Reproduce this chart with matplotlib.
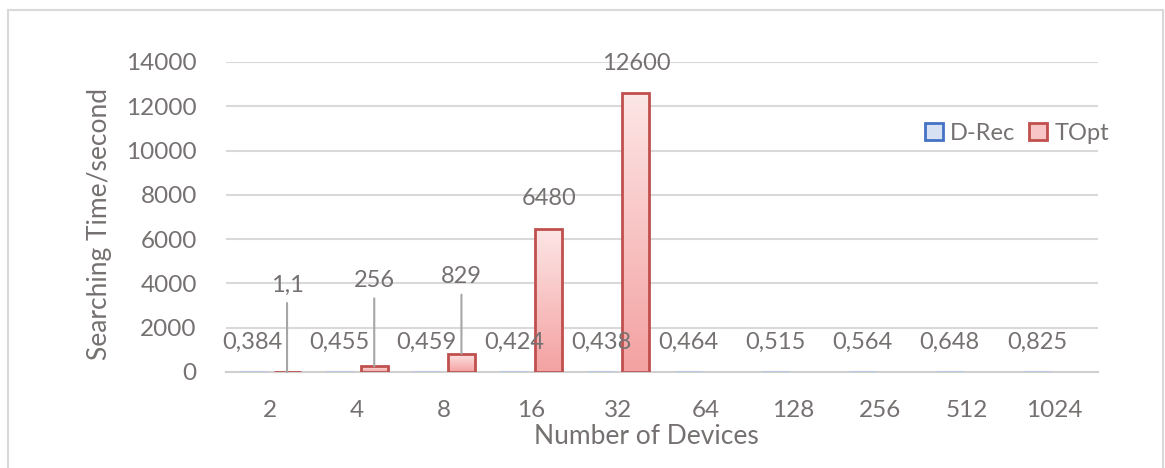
import matplotlib
matplotlib.use("Agg")
import matplotlib.pyplot as plt
import numpy as np
from matplotlib.colors import LinearSegmentedColormap
from matplotlib.patches import Rectangle, Patch

categories = ["2", "4", "8", "16", "32", "64", "128", "256", "512", "1024"]
drec = [0.384, 0.455, 0.459, 0.424, 0.438, 0.464, 0.515, 0.564, 0.648, 0.825]
topt = [1.1, 256, 829, 6480, 12600]
drec_labels = ["0,384", "0,455", "0,459", "0,424", "0,438", "0,464", "0,515", "0,564", "0,648", "0,825"]
topt_labels = ["1,1", "256", "829", "6480", "12600"]
yticks = [0, 2000, 4000, 6000, 8000, 10000, 12000, 14000]

plt.rcParams['font.family'] = ['Lato', 'DejaVu Sans']
TXT = "#767171"
FS = 17
FS_T = 17.5
FS_L = 19

W, H = 1165, 468
fig = plt.figure(figsize=(W / 100, H / 100), dpi=100)
ax = fig.add_axes([226 / W, 1 - 372 / H, (1098 - 226) / W, (372 - 62) / H])

# outer border
fig.patches.append(Rectangle((8 / W, -0.05), (1163 - 8) / W, 1.05 - 10 / H,
                             transform=fig.transFigure, fill=False,
                             edgecolor="#d9d9d9", linewidth=1.5))

x = np.arange(len(categories))
bw = 0.31
off = 0.2

red_cmap = LinearSegmentedColormap.from_list("r", ["#f4a1a1", "#fde6e6"])
blue_cmap = LinearSegmentedColormap.from_list("b", ["#a9c0e6", "#e3ebf7"])
grad = np.linspace(0, 1, 256).reshape(-1, 1)

def gbar(xc, h, cmap, edge):
    bars = ax.bar(xc, h, width=bw, facecolor="none", edgecolor=edge, linewidth=2, zorder=3)
    for b in bars:
        if b.get_height() <= 0:
            continue
        im = ax.imshow(grad, cmap=cmap, origin="lower", aspect="auto",
                       extent=[b.get_x(), b.get_x() + b.get_width(), 0, b.get_height()],
                       zorder=2)
        im.set_clip_path(b)
    return bars

gbar(x - off, drec, blue_cmap, "#b4c7e7")
gbar(x[:len(topt)] + off, topt, red_cmap, "#c0504d")

ax.set_xlim(-0.5, len(categories) - 0.5)
ax.set_ylim(0, 14000)
ax.set_yticks(yticks)
ax.set_yticklabels([str(v) for v in yticks])
ax.set_xticks(x)
ax.set_xticklabels(categories)
ax.tick_params(length=0, labelsize=FS_T, colors=TXT)
ax.tick_params(axis="x", pad=20)
ax.tick_params(axis="y", pad=21)
ax.grid(axis="y", color="#d9d9d9", linewidth=1.5, zorder=0)
ax.set_axisbelow(True)
for s in ["top", "right", "left"]:
    ax.spines[s].set_visible(False)
ax.spines["bottom"].set_color("#d0d0d0")
ax.spines["bottom"].set_linewidth(1.5)

# data labels
for xi, v, lab in zip(x, drec, drec_labels):
    ax.annotate(lab, (xi - off, v), xytext=(0, 30), textcoords="offset pixels",
                ha="center", va="center", fontsize=FS, color=TXT, zorder=5)

lead = {0: 87, 1: 86, 2: 77}
for i, (v, lab) in enumerate(zip(topt, topt_labels)):
    if i in lead:
        ax.annotate(lab, (x[i] + off, v), xytext=(0, lead[i]), textcoords="offset pixels",
                    ha="center", va="center", fontsize=FS, color=TXT, zorder=5)
        ax.annotate("", (x[i] + off, v), xytext=(0, lead[i] - 18), textcoords="offset pixels",
                    arrowprops=dict(arrowstyle="-", color="#a6a6a6", lw=1.5,
                                    shrinkA=0, shrinkB=0), zorder=4)
    else:
        ax.annotate(lab, (x[i] + off, v), xytext=(0, 30), textcoords="offset pixels",
                    ha="center", va="center", fontsize=FS, color=TXT, zorder=5)

ax.set_ylabel("Searching Time/second", fontsize=FS_L, color=TXT)
ax.yaxis.set_label_coords((112 - 226) / (1098 - 226), (372 - 224) / (372 - 62))
fig.text(646 / W, 1 - 436 / H, "Number of Devices", ha="center", va="center",
         fontsize=FS_L, color=TXT)

handles = [Patch(facecolor="#d6e1f3", edgecolor="#4472c4", linewidth=2, label="D-Rec"),
           Patch(facecolor="#f8c6c6", edgecolor="#c0504d", linewidth=2, label="TOpt")]
fig.legend(handles=handles, loc="center", bbox_to_anchor=(1017 / W, 1 - 133 / H),
           ncol=2, frameon=False, fontsize=FS, labelcolor=TXT,
           handlelength=0.75, handleheight=0.75, handletextpad=0.3, columnspacing=0.6)

fig.savefig("out.png", dpi=100)
